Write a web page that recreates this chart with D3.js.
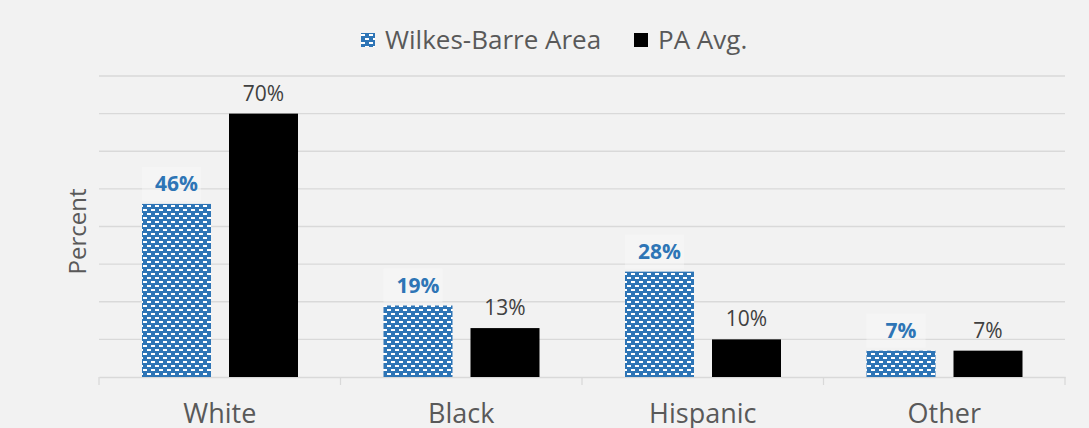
<!DOCTYPE html>
<html>
<head>
<meta charset="utf-8">
<script src="https://cdn.jsdelivr.net/npm/d3@7"></script>
<style>
  body { margin: 0; background: #f2f2f2; }
  text { font-family: "Open Sans", sans-serif; }
</style>
</head>
<body>
<script>
// data
const categories = ["White", "Black", "Hispanic", "Other"];
const seriesNames = ["Wilkes-Barre Area", "PA Avg."];
const wilkesBarre = [46, 19, 28, 7];
const paAvg = [70, 13, 10, 7];
const yTicks = [0, 10, 20, 30, 40, 50, 60, 70, 80];

const width = 1089, height = 428;
const margin = {top: 76, right: 24, bottom: 51, left: 99};
const w = width - margin.left - margin.right;
const h = height - margin.top - margin.bottom;

const svg = d3.select("body").append("svg")
    .attr("width", width)
    .attr("height", height);

svg.append("rect").attr("width", width).attr("height", height).attr("fill", "#f2f2f2");

// dashed pattern for the blue bars
const defs = svg.append("defs");
const pat = defs.append("pattern")
    .attr("id", "dash")
    .attr("patternUnits", "userSpaceOnUse")
    .attr("width", 8)
    .attr("height", 8);
pat.append("rect").attr("width", 8).attr("height", 8).attr("fill", "#2e75b6");
pat.append("rect").attr("x", 0).attr("y", 1).attr("width", 4).attr("height", 2).attr("fill", "#fff");
pat.append("rect").attr("x", 4).attr("y", 5).attr("width", 4).attr("height", 2).attr("fill", "#fff");

const g = svg.append("g").attr("transform", "translate(" + margin.left + "," + margin.top + ")");

const x0 = d3.scaleBand().domain(categories).range([0, w]);
const x1 = d3.scaleBand().domain(seriesNames).range([43, 199]).paddingInner(18 / 87);
const y = d3.scaleLinear().domain([0, 80]).range([h, 0]);

// gridlines
g.selectAll(".grid")
    .data(yTicks.slice(1))
    .enter().append("line")
    .attr("x1", 0).attr("x2", w)
    .attr("y1", d => y(d)).attr("y2", d => y(d))
    .attr("stroke", "#d9d9d9").attr("stroke-width", 1.3);

// x axis
const xAxis = g.append("g")
    .attr("transform", "translate(0," + h + ")")
    .call(d3.axisBottom(x0).tickSize(0).tickPadding(27));
xAxis.select(".domain").attr("stroke", "#d9d9d9").attr("stroke-width", 1.3);
xAxis.selectAll("text")
    .style("font-family", "Open Sans")
    .style("font-size", "27px")
    .attr("fill", "#595959");

// boundary ticks
g.selectAll(".btick")
    .data(d3.range(categories.length + 1))
    .enter().append("line")
    .attr("x1", i => i * x0.bandwidth()).attr("x2", i => i * x0.bandwidth())
    .attr("y1", h).attr("y2", h + 8)
    .attr("stroke", "#d9d9d9").attr("stroke-width", 1.3);

const values = [wilkesBarre, paAvg];
const fills = ["url(#dash)", "#000"];

seriesNames.forEach((s, si) => {
    const data = categories.map((c, i) => ({cat: c, v: values[si][i]}));
    g.selectAll(".bar" + si)
        .data(data)
        .enter().append("rect")
        .attr("x", d => x0(d.cat) + x1(s))
        .attr("y", d => y(d.v))
        .attr("width", x1.bandwidth())
        .attr("height", d => h - y(d.v))
        .attr("fill", fills[si]);

    // faint box behind the blue labels
    if (si === 0) {
        g.selectAll(".labbox")
            .data(data)
            .enter().append("rect")
            .attr("x", d => x0(d.cat) + x1(s))
            .attr("y", d => y(d.v) - 37)
            .attr("width", x1.bandwidth() - 10)
            .attr("height", 34)
            .attr("fill", "#f8f8f8")
            .attr("fill-opacity", 0.45);
    }

    g.selectAll(".lab" + si)
        .data(data)
        .enter().append("text")
        .attr("x", d => x0(d.cat) + x1(s) + x1.bandwidth() / 2)
        .attr("y", d => y(d.v) - 13)
        .attr("text-anchor", "middle")
        .style("font-size", "21px")
        .style("font-weight", si === 0 ? "bold" : "normal")
        .attr("fill", si === 0 ? "#2e75b6" : "#404040")
        .text(d => d.v + "%");
});

// y axis title
svg.append("text")
    .attr("transform", "translate(86," + (margin.top + h / 2 + 5) + ") rotate(-90)")
    .attr("text-anchor", "middle")
    .style("font-size", "24px")
    .attr("fill", "#595959")
    .text("Percent");

// legend
const legend = svg.append("g").attr("transform", "translate(361,33)");
const legX = [0, 273];
seriesNames.forEach((s, i) => {
    legend.append("rect")
        .attr("x", legX[i]).attr("y", 0)
        .attr("width", 14).attr("height", 14)
        .attr("fill", fills[i]);
    legend.append("text")
        .attr("x", legX[i] + 24).attr("y", 7)
        .attr("dy", "0.35em")
        .style("font-size", "26px")
        .attr("fill", "#595959")
        .text(s);
});
</script>
</body>
</html>
